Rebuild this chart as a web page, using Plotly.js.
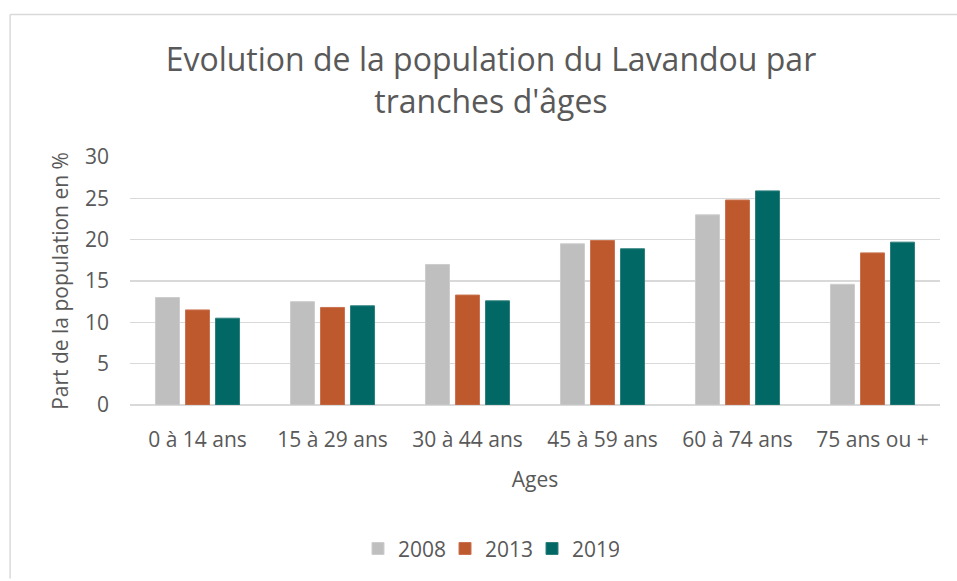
<!DOCTYPE html>
<html>
<head>
<meta charset="utf-8">
<script src="https://cdn.plot.ly/plotly-3.0.1.min.js"></script>
<style>
html,body{margin:0;padding:0;background:#fff;}
#chart{width:957px;height:581px;}
svg text{font-variant-ligatures:none;}
</style>
</head>
<body>
<div id="chart"></div>
<script>
var categories = ["0 à 14 ans", "15 à 29 ans", "30 à 44 ans", "45 à 59 ans", "60 à 74 ans", "75 ans ou +"];
var seriesNames = ["2008", "2013", "2019"];
var values2008 = [13.0, 12.5, 17.0, 19.5, 23.0, 14.6];
var values2013 = [11.5, 11.8, 13.3, 19.9, 24.8, 18.4];
var values2019 = [10.5, 12.0, 12.6, 18.9, 25.9, 19.7];
var yTicks = [0, 5, 10, 15, 20, 25, 30];
var chartTitle = "Evolution de la population du Lavandou par<br>tranches d'âges";
var xTitle = "Ages";
var yTitle = "Part de la population en %";

var colors = ["#bfbfbf", "#bd592c", "#016865"];
var lineColors = ["#cdcdcd", "#c97350", "#2e807d"];
var allValues = [values2008, values2013, values2019];

var FONT = "'Open Sans', 'Liberation Sans', sans-serif";
var TXT = "#595959";

var traces = allValues.map(function(v, i){
  return {
    type: "bar",
    name: seriesNames[i],
    x: categories,
    y: v,
    marker: {color: colors[i], line: {color: lineColors[i], width: 1}},
    hoverinfo: "x+y+name"
  };
});

var layout = {
  width: 957,
  height: 581,
  margin: {l: 130, r: 17, t: 157, b: 172},
  paper_bgcolor: "#ffffff",
  plot_bgcolor: "#ffffff",
  font: {family: FONT, color: TXT, size: 21},
  barmode: "group",
  bargap: 0.333,
  bargroupgap: 0.2,
  title: {
    text: chartTitle,
    font: {family: FONT, size: 32, color: TXT},
    xref: "container", x: 0.513, xanchor: "center",
    yref: "container", y: 0.877, yanchor: "middle"
  },
  xaxis: {
    type: "category",
    showgrid: false,
    showline: false,
    zeroline: false,
    ticks: "",
    ticklabelstandoff: 20,
    tickfont: {family: FONT, size: 21, color: TXT},
    title: {text: xTitle, font: {family: FONT, size: 21, color: TXT}, standoff: 20}
  },
  yaxis: {
    range: [0, 30],
    tickvals: yTicks,
    ticktext: yTicks.map(String),
    showgrid: true,
    gridcolor: "#d9d9d9",
    gridwidth: 1.3,
    zeroline: true,
    zerolinecolor: "#d9d9d9",
    zerolinewidth: 1.3,
    showline: false,
    ticks: "",
    ticklabelstandoff: 20,
    tickfont: {family: FONT, size: 21, color: TXT},
    title: {text: yTitle, font: {family: FONT, size: 21, color: TXT}, standoff: 10}
  },
  legend: {
    orientation: "h",
    xref: "paper", x: 0.4426, xanchor: "center",
    yref: "paper", y: -0.58, yanchor: "middle",
    font: {family: FONT, size: 21, color: TXT},
    itemwidth: 30,
    entrywidth: 42,
    entrywidthmode: "pixels",
    traceorder: "normal"
  },
  shapes: [
    {type: "line", xref: "paper", yref: "paper", x0: -0.148, x1: -0.148, y0: 1.575, y1: -0.7,
     line: {color: "#d9d9d9", width: 1.5}},
    {type: "line", xref: "paper", yref: "paper", x0: -0.148, x1: 1.03, y0: 1.575, y1: 1.575,
     line: {color: "#d9d9d9", width: 1.5}}
  ],
  showlegend: true
};

Plotly.newPlot("chart", traces, layout, {displayModeBar: false, responsive: false, staticPlot: true});
</script>
</body>
</html>
